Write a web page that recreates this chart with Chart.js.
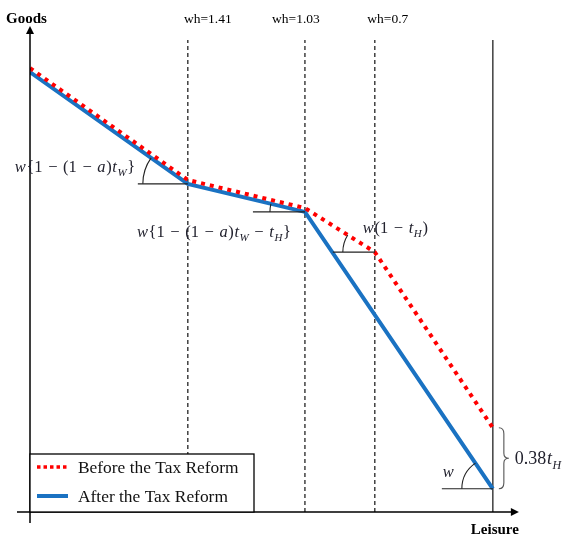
<!DOCTYPE html>
<html lang="en">
<head>
<meta charset="UTF-8">
<title>Budget constraint before and after the tax reform</title>
<script src="https://cdn.jsdelivr.net/npm/chart.js"></script>
<style>
  html, body { margin: 0; padding: 0; background: #fff; }
</style>
</head>
<body>
<canvas id="budget" width="567" height="535"></canvas>
<script>
  // leisure runs 0..100 (100 = whole time endowment), goods 0..100 (drawing units)
  const kinkLabels = ['wh=1.41', 'wh=1.03', 'wh=0.7'];
  const kinkLeisure = [34.1, 59.4, 74.5];
  const endowment = 100;
  const lineTop = 97.5;

  const beforeLeisure = [0, 34.1, 59.4, 74.5, 100];
  const beforeGoods   = [91.7, 68.6, 62.8, 53.7, 17.4];
  const afterLeisure  = [0, 34.1, 59.4, 100];
  const afterGoods    = [90.9, 67.8, 62.0, 4.8];

  const seriesNames = ['Before the Tax Reform', 'After the Tax Reform'];
  const RED = '#ff0000', BLUE = '#1a72c2';

  const pts = (xs, ys) => xs.map((x, i) => ({ x: x, y: ys[i] }));

  function vline(x, dashed) {
    return {
      data: [{ x: x, y: 0 }, { x: x, y: lineTop }],
      showLine: true, pointRadius: 0, borderColor: '#111', borderWidth: 1.2,
      borderDash: dashed ? [4, 3] : [], order: 3
    };
  }

  const SERIF = '"Liberation Serif", "Times New Roman", serif';

  // pieces: 'n' upright, 'i' italic, 's' italic subscript, 'm' operator with side gaps
  function mathText(c, parts, x, y, size) {
    const fontFor = k => (k === 'n' || k === 'm') ? size + 'px ' + SERIF
      : k === 'i' ? 'italic ' + size + 'px ' + SERIF
      : 'italic ' + Math.round(size * 0.68) + 'px ' + SERIF;
    let cx = x;
    c.textAlign = 'left';
    c.textBaseline = 'alphabetic';
    parts.forEach(p => {
      c.font = fontFor(p[1]);
      if (p[1] === 'm') cx += 5;
      c.fillText(p[0], cx, p[1] === 's' ? y + size * 0.25 : y);
      cx += c.measureText(p[0]).width + 0.6;
      if (p[1] === 'm') cx += 5;
    });
  }

  // horizontal reference line + angle arc at a kink, against the segment coming from the left
  function angleMark(c, px, py, qx, qy, len, r) {
    const th = Math.atan2(qy - py, qx - px);
    c.beginPath();
    c.moveTo(qx - len, qy);
    c.lineTo(qx, qy);
    c.stroke();
    c.beginPath();
    c.arc(qx, qy, r, Math.PI, Math.PI + th, false);
    c.stroke();
  }

  const decor = {
    id: 'decor',
    afterDatasetsDraw(chart) {
      const c = chart.ctx, xs = chart.scales.x, ys = chart.scales.y;
      const X = v => xs.getPixelForValue(v), Y = v => ys.getPixelForValue(v);
      const x0 = X(0), y0 = Y(0);
      c.save();

      // axes with arrows
      c.strokeStyle = '#000'; c.fillStyle = '#000'; c.lineWidth = 1.5;
      c.beginPath();
      c.moveTo(x0, y0 + 11); c.lineTo(x0, Y(lineTop) - 10);
      c.moveTo(x0 - 13, y0); c.lineTo(X(endowment) + 20, y0);
      c.stroke();
      c.beginPath();
      c.moveTo(x0, Y(lineTop) - 14); c.lineTo(x0 - 4, Y(lineTop) - 6); c.lineTo(x0 + 4, Y(lineTop) - 6);
      c.fill();
      c.beginPath();
      const ax = X(endowment) + 26;
      c.moveTo(ax, y0); c.lineTo(ax - 8, y0 - 4); c.lineTo(ax - 8, y0 + 4);
      c.fill();

      c.font = 'bold 15px ' + SERIF;
      c.textBaseline = 'alphabetic';
      c.textAlign = 'left';
      c.fillText('Goods', 6, 23);
      c.textAlign = 'right';
      c.fillText('Leisure', ax, y0 + 22);

      c.font = '13.5px ' + SERIF;
      c.textAlign = 'center';
      const labelDx = [20, -9, 13];
      kinkLeisure.forEach((k, i) => c.fillText(kinkLabels[i], X(k) + labelDx[i], 23));

      // angle marks
      c.strokeStyle = '#222'; c.lineWidth = 1.1;
      const A = afterLeisure.map((v, i) => [X(v), Y(afterGoods[i])]);
      const B = beforeLeisure.map((v, i) => [X(v), Y(beforeGoods[i])]);
      angleMark(c, A[0][0], A[0][1], A[1][0], A[1][1], 50, 45);
      angleMark(c, A[1][0], A[1][1], A[2][0], A[2][1], 52, 35);
      angleMark(c, B[2][0], B[2][1], B[3][0], B[3][1], 42, 32);
      angleMark(c, A[2][0], A[2][1], A[3][0], A[3][1], 51, 31);

      // slope labels
      c.fillStyle = '#22222e';
      mathText(c, [['w', 'i'], ['{1', 'n'], ['−', 'm'], ['(1', 'n'], ['−', 'm'], ['a', 'i'], [')', 'n'], ['t', 'i'], ['W', 's'], ['}', 'n']],
        A[1][0] - 173, A[1][1] - 12, 16.5);
      mathText(c, [['w', 'i'], ['{1', 'n'], ['−', 'm'], ['(1', 'n'], ['−', 'm'], ['a', 'i'], [')', 'n'], ['t', 'i'], ['W', 's'], ['−', 'm'], ['t', 'i'], ['H', 's'], ['}', 'n']],
        A[2][0] - 168, A[2][1] + 25, 16.5);
      mathText(c, [['w', 'i'], ['(1', 'n'], ['−', 'm'], ['t', 'i'], ['H', 's'], [')', 'n']],
        B[3][0] - 12, B[3][1] - 19, 16.5);
      mathText(c, [['w', 'i']], A[3][0] - 50, A[3][1] - 12, 16.5);

      // brace for the lump-sum gap
      const bx = X(endowment) + 8, top = B[4][1], bot = A[3][1], mid = (top + bot) / 2;
      c.strokeStyle = '#555'; c.lineWidth = 1.1;
      c.beginPath();
      c.moveTo(bx - 2, top);
      c.quadraticCurveTo(bx + 3, top, bx + 3, top + 6);
      c.lineTo(bx + 3, mid - 5);
      c.quadraticCurveTo(bx + 3, mid, bx + 8, mid);
      c.quadraticCurveTo(bx + 3, mid, bx + 3, mid + 5);
      c.lineTo(bx + 3, bot - 6);
      c.quadraticCurveTo(bx + 3, bot, bx - 2, bot);
      c.stroke();
      mathText(c, [['0.38', 'n'], ['t', 'i'], ['H', 's']], bx + 14, mid + 6, 18);

      // legend box
      const lw = 224, lh = 58, lx = x0, ly = y0 - lh;
      c.fillStyle = '#fff';
      c.fillRect(lx, ly, lw, lh);
      c.strokeStyle = '#000'; c.lineWidth = 1.3;
      c.strokeRect(lx, ly, lw, lh);
      const ds = chart.data.datasets;
      [0, 1].forEach(i => {
        const yy = ly + 13 + i * 29;
        c.strokeStyle = ds[i].borderColor;
        c.lineWidth = i === 0 ? 3.5 : 4;
        c.setLineDash(i === 0 ? [3.5, 3] : []);
        c.beginPath();
        c.moveTo(lx + 7, yy); c.lineTo(lx + 38, yy);
        c.stroke();
        c.setLineDash([]);
        c.fillStyle = '#111';
        c.font = '17.4px ' + SERIF;
        c.textAlign = 'left';
        c.textBaseline = 'middle';
        c.fillText(seriesNames[i], lx + 48, yy + 1);
      });
      c.restore();
    }
  };

  new Chart(document.getElementById('budget').getContext('2d'), {
    type: 'scatter',
    data: {
      datasets: [
        { label: seriesNames[0], data: pts(beforeLeisure, beforeGoods), showLine: true, pointRadius: 0,
          borderColor: RED, borderWidth: 4, borderDash: [4, 5], order: 0 },
        { label: seriesNames[1], data: pts(afterLeisure, afterGoods), showLine: true, pointRadius: 0,
          borderColor: BLUE, borderWidth: 4, order: 1 },
        ...kinkLeisure.map(k => vline(k, true)),
        vline(endowment, false)
      ]
    },
    options: {
      responsive: false,
      animation: false,
      layout: { padding: { left: 30, right: 51, top: 28, bottom: 23 } },
      scales: {
        x: { type: 'linear', min: 0, max: 105, display: false },
        y: { type: 'linear', min: 0, max: 100, display: false }
      },
      plugins: { legend: { display: false }, tooltip: { enabled: false } }
    },
    plugins: [decor]
  });
</script>
</body>
</html>
